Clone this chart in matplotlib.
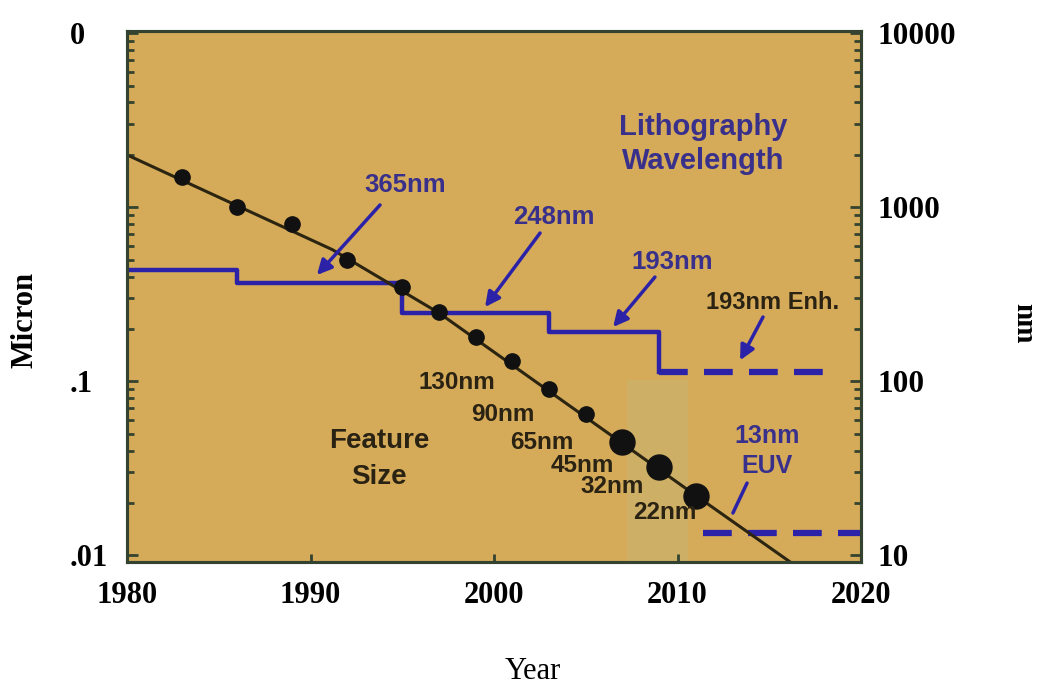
import matplotlib
matplotlib.use("Agg")
import matplotlib.pyplot as plt
from matplotlib.patches import Rectangle
from matplotlib.ticker import LogLocator, NullFormatter, FixedLocator

# ---------------- data (nm / year) ----------------
node_years = [1983, 1986, 1989, 1992, 1995, 1997, 1999, 2001, 2003, 2005]
node_nm = [1500, 1000, 800, 500, 350, 250, 180, 130, 90, 65]
big_years = [2007, 2009, 2011]
big_nm = [45, 32, 22]

trend_years = [1980, 1991.2, 1997, 2011.2, 2017]
trend_nm = [2000, 570, 247, 21.3, 7.9]

wl_years = [1980, 1986, 1995, 2003, 2009, 2009]
wl_nm = [436, 365, 248, 193, 113, 113]

enh_years = [2009, 2018.2]
enh_nm = [113, 113]
euv_years = [2011.4, 2020]
euv_nm = [13.5, 13.5]

node_labels = ["130nm", "90nm", "65nm", "45nm", "32nm", "22nm"]
node_label_pos = [(1997.98, 99), (2000.49, 64), (2002.62, 44.2),
                  (2004.8, 33), (2006.43, 24.7), (2009.32, 17.7)]

x_ticks = [1980, 1990, 2000, 2010, 2020]
left_ticks = [10, 100, 1000, 10000]
left_labels = [".01", ".1", "", "0"]
right_ticks = [10, 100, 1000, 10000]
right_labels = ["10", "100", "1000", "10000"]

# ---------------- style ----------------
BG = "#D5AB5A"
SPINE = "#34432F"
BLUE = "#2B22A8"
TXT_BLUE = "#38308A"
TXT_DARK = "#2A2212"

fig = plt.figure(figsize=(10.42, 6.84), dpi=100)
ax = fig.add_axes([127/1042, 1-562/684, (861-127)/1042, (562-31)/684])
ax.set_facecolor(BG)
ax.set_yscale("log")
ax.set_xlim(1980, 2020)
ax.set_ylim(9.15, 10300)

# greyish block (background artefact)
ax.add_patch(Rectangle((2007.25, 9.15), 3.3, 101.7 - 9.15, color="#CDAF66",
                       zorder=0.5, lw=0))

# wavelength steps
ax.plot(wl_years, wl_nm, drawstyle="steps-post", color=BLUE, lw=3.2, zorder=2)
ax.plot(enh_years, enh_nm, color=BLUE, lw=4.5, ls=(0, (4.6, 2.6)), zorder=2)
ax.plot(euv_years, euv_nm, color=BLUE, lw=4.5, ls=(0, (4.6, 2.6)), zorder=2)

# feature size trend + nodes
ax.plot(trend_years, trend_nm, color="#2B2410", lw=2.2, zorder=3)
ax.plot(node_years, node_nm, "o", color="#111111", ms=11, zorder=4)
ax.plot(big_years, big_nm, "o", color="#111111", ms=18, zorder=4)

sans = "Liberation Sans"
ax.text(2011.39, 2310, "Lithography\nWavelength", color=TXT_BLUE, fontsize=21,
        fontweight="bold", family=sans, ha="center", va="center", linespacing=1.3)
ax.text(1993.73, 35.7, "Feature\nSize", color=TXT_DARK, fontsize=20,
        fontweight="bold", family=sans, ha="center", va="center", linespacing=1.5)
for lab, (xx, yy) in zip(node_labels, node_label_pos):
    ax.text(xx, yy, lab, color=TXT_DARK, fontsize=17.5, family=sans,
            fontweight="bold", ha="center", va="center", zorder=5)

ax.text(1995.15, 1343, "365nm", color=TXT_BLUE, fontsize=18.5, fontweight="bold",
        family=sans, ha="center", va="center")
ax.text(2003.27, 879, "248nm", color=TXT_BLUE, fontsize=18.5, fontweight="bold",
        family=sans, ha="center", va="center")
ax.text(2009.7, 485, "193nm", color=TXT_BLUE, fontsize=18.5, fontweight="bold",
        family=sans, ha="center", va="center")
ax.text(2015.2, 282, "193nm Enh.", color=TXT_DARK, fontsize=17,
        fontweight="bold", family=sans, ha="center", va="center")
ax.text(2014.88, 39.7, "13nm\nEUV", color=TXT_BLUE, fontsize=18,
        fontweight="bold", family=sans, ha="center", va="center", linespacing=1.35)

arrow_kw = dict(arrowstyle="-|>", color=BLUE, lw=2.5, mutation_scale=22,
                shrinkA=0, shrinkB=0)
ax.annotate("", xy=(1990.35, 408), xytext=(1993.79, 1031), arrowprops=arrow_kw, zorder=5)
ax.annotate("", xy=(1999.51, 267), xytext=(2002.51, 711), arrowprops=arrow_kw, zorder=5)
ax.annotate("", xy=(2006.49, 205), xytext=(2008.77, 397), arrowprops=arrow_kw, zorder=5)
ax.annotate("", xy=(2013.41, 132), xytext=(2014.66, 234), arrowprops=arrow_kw, zorder=5)
ax.annotate("", xy=(2013.02, 17.5), xytext=(2013.79, 26.0),
            arrowprops=dict(arrowstyle="-", color=BLUE, lw=2.5, shrinkA=0, shrinkB=0))

# spines and ticks
for s in ax.spines.values():
    s.set_color(SPINE)
    s.set_linewidth(2.2)

serif = "Liberation Serif"
ax.set_xticks(x_ticks)
ax.set_xticklabels([str(v) for v in x_ticks], family=serif, fontweight="bold", fontsize=22)
ax.tick_params(axis="x", direction="in", length=6, width=2, color=SPINE, pad=14)

ax.yaxis.set_major_locator(FixedLocator(left_ticks))
ax.yaxis.set_minor_locator(LogLocator(base=10, subs=range(2, 10), numticks=20))
ax.yaxis.set_minor_formatter(NullFormatter())
ax.set_yticklabels(left_labels, family=serif, fontweight="bold", fontsize=22)
ax.tick_params(axis="y", which="major", direction="in", length=8, width=2,
               color=SPINE, pad=41)
ax.tick_params(axis="y", which="minor", direction="in", length=5, width=2, color=SPINE)
for t in ax.get_yticklabels():
    t.set_horizontalalignment("left")

ax2 = ax.twinx()
ax2.set_yscale("log")
ax2.set_ylim(ax.get_ylim())
ax2.yaxis.set_major_locator(FixedLocator(right_ticks))
ax2.yaxis.set_minor_locator(LogLocator(base=10, subs=range(2, 10), numticks=20))
ax2.yaxis.set_minor_formatter(NullFormatter())
ax2.set_yticklabels(right_labels, family=serif, fontweight="bold", fontsize=22.5)
ax2.tick_params(axis="y", which="major", direction="in", length=8, width=2,
                color=SPINE, pad=12)
ax2.tick_params(axis="y", which="minor", direction="in", length=5, width=2, color=SPINE)
for s in ax2.spines.values():
    s.set_color(SPINE)
    s.set_linewidth(2.2)

fig.text(25/1042, 1-320/684, "Micron", rotation=90, family=serif, fontweight="bold",
         fontsize=22, ha="center", va="center")
fig.text(1024/1042, 1-323/684, "nm", rotation=-90, family=serif, fontweight="bold",
         fontsize=21, ha="center", va="center")
fig.text(533/1042, 1-679/684, "Year", family=serif, fontsize=22, ha="center",
         va="baseline")

fig.savefig("out.png", dpi=100, facecolor="white")
